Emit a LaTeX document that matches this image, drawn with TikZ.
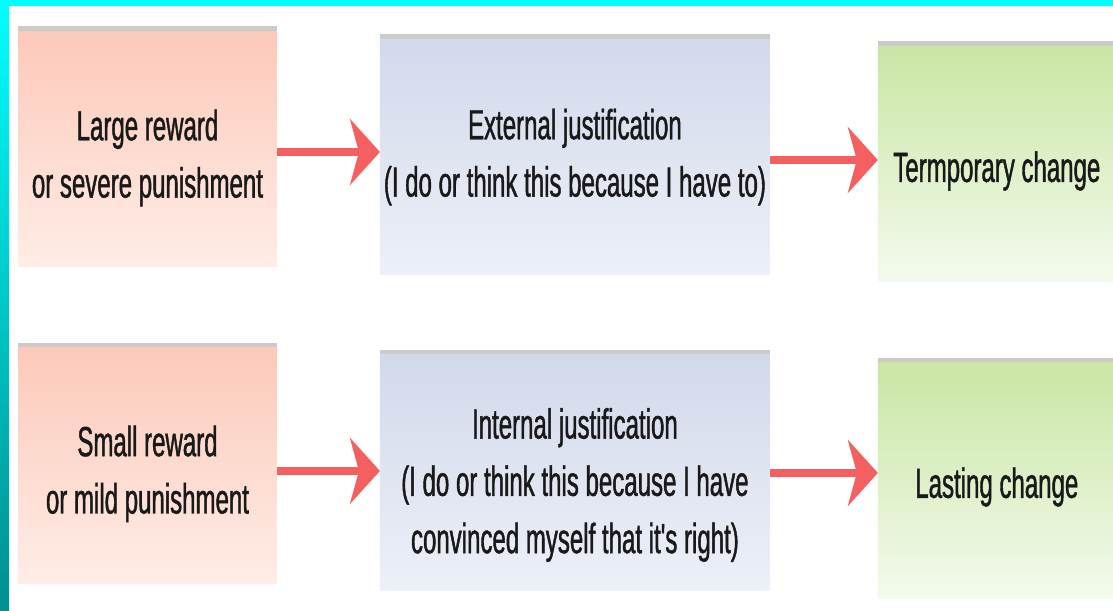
\documentclass[tikz,border=0pt]{standalone}
\usepackage{fontspec}
\usepackage{xcolor}
\usepackage{tikz}
\usetikzlibrary{arrows.meta, positioning, shadows}
\newfontfamily\boxfont[FakeStretch=0.57, FakeBold=1]{Liberation Sans}
\definecolor{edgecyan}{HTML}{00FFFF}
\definecolor{edgeteal}{HTML}{008F8F}
\definecolor{rewardtop}{HTML}{FDC9BA}
\definecolor{rewardbot}{HTML}{FEEDE6}
\definecolor{reasontop}{HTML}{D2D9EB}
\definecolor{reasonbot}{HTML}{EDF0F8}
\definecolor{changetop}{HTML}{C9E6A3}
\definecolor{changebot}{HTML}{F4FAEE}
\definecolor{flowred}{HTML}{F45F5F}

\begin{document}
\begin{tikzpicture}[
    x=0.02cm, y=0.02cm,
    box/.style={
        rectangle,
        inner sep=0pt,
        outer sep=0pt,
        minimum height=4.72cm,
        drop shadow={shadow xshift=0pt, shadow yshift=0.1cm, fill=black!45, opacity=0.45}
    },
    rewardbox/.style={box, minimum width=5.18cm, top color=rewardtop, bottom color=rewardbot},
    reasonbox/.style={box, minimum width=7.8cm, top color=reasontop, bottom color=reasonbot},
    changebox/.style={box, minimum width=4.76cm, top color=changetop, bottom color=changebot},
    boxtext/.style={
        inner sep=0pt,
        align=center,
        text=black!90,
        font=\boxfont\fontsize{24}{32.6}\selectfont
    },
    flowarrow/.style={
        -{Stealth[length=0.6cm, width=1.32cm, inset=0.18cm]},
        line width=0.16cm,
        draw=flowred
    }
]

% Frame
\path[clip] (0,0) rectangle (1113,610);
\fill[white] (0,0) rectangle (1113,610);

% Top row
\node[rewardbox] (bigreward) at (147.5,461) {};
\node[reasonbox, right=2.06cm of bigreward, yshift=-0.16cm] (external) {};
\node[changebox, right=2.16cm of external, yshift=-0.14cm] (temporary) {};

% Bottom row
\node[rewardbox, below=1.62cm of bigreward] (smallreward) {};
\node[reasonbox, right=2.06cm of smallreward, yshift=-0.14cm] (internal) {};
\node[changebox, right=2.16cm of internal, yshift=-0.16cm] (lasting) {};

% Texts
\node[boxtext] (bigrewardtext) at ([yshift=-0.18cm]bigreward) {Large reward\\or severe punishment};
\node[boxtext] (externaltext) at (external) {External justification\\(I do or think this because I have to)};
\node[boxtext] (temporarytext) at ([yshift=-0.14cm]temporary) {Termporary change};
\node[boxtext] (smallrewardtext) at ([yshift=-0.16cm]smallreward) {Small reward\\or mild punishment};
\node[boxtext] (internaltext) at ([yshift=-0.24cm]internal) {Internal justification\\(I do or think this because I have\\convinced myself that it's right)};
\node[boxtext] (lastingtext) at ([yshift=-0.12cm]lasting) {Lasting change};

% Arrows
\draw[flowarrow] ([yshift=-0.06cm]bigreward.east) -- ([yshift=-0.06cm]bigreward.east -| external.west);
\draw[flowarrow] ([yshift=-0.06cm]external.east) -- ([yshift=-0.06cm]external.east -| temporary.west);
\draw[flowarrow] ([yshift=-0.1cm]smallreward.east) -- ([yshift=-0.1cm]smallreward.east -| internal.west);
\draw[flowarrow] (internal.east) -- (internal.east -| lasting.west);

% Cyan edges
\fill[edgecyan] (0,604) rectangle (1113,610);
\shade[top color=edgecyan, bottom color=edgeteal] (0,0) rectangle (9,610);

\end{tikzpicture}
\end{document}
